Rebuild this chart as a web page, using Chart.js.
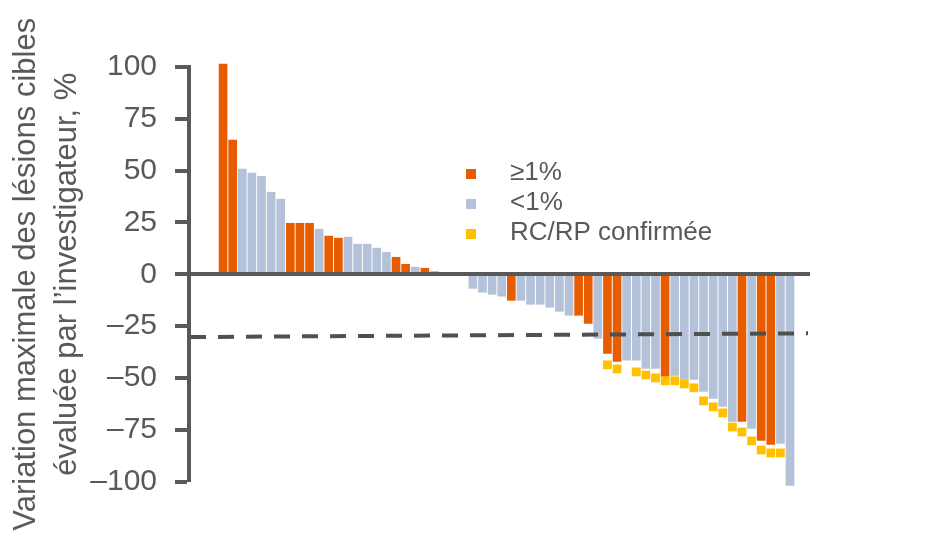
<!DOCTYPE html>
<html>
<head>
<meta charset="utf-8">
<script src="https://cdn.jsdelivr.net/npm/chart.js@4"></script>
<style>
  html, body { margin: 0; padding: 0; background: #ffffff; }
  #wrap { width: 933px; height: 538px; position: relative; }
</style>
</head>
<body>
<div id="wrap"><canvas id="waterfall" width="933" height="538"></canvas></div>
<script>
// Patient rank along the waterfall (ranks 24–26 carry no measurement)
const patientRank = [
  1, 2, 3, 4, 5, 6, 7, 8, 9, 10, 11, 12, 13, 14, 15, 16, 17, 18, 19, 20,
  21, 22, 23, 24, 25, 26, 27, 28, 29, 30, 31, 32, 33, 34, 35, 36, 37, 38, 39, 40,
  41, 42, 43, 44, 45, 46, 47, 48, 49, 50, 51, 52, 53, 54, 55, 56, 57, 58, 59, 60
];

// Best change from baseline in sum of target lesions, %
const bestChange = [
  101.4, 64.7, 50.7, 48.8, 47.3, 39.6, 36.2, 24.6, 24.6, 24.6,
  21.7, 18.4, 17.4, 17.9, 14.5, 14.5, 12.6, 10.6, 8.2, 4.8,
  3.4, 2.9, 1.4, null, null, null, -6.8, -8.7, -9.7, -10.6,
  -12.6, -12.6, -14.5, -14.5, -15.9, -17.9, -19.8, -19.8, -23.7, -30.9,
  -38.2, -42.0, -41.5, -41.5, -45.4, -45.4, -49.3, -48.8, -50.7, -50.7,
  -56.5, -59.9, -63.8, -71.0, -71.0, -74.4, -80.2, -82.1, -81.6, -101.9
];

// PD-L1 expression group per patient: 'H' = ≥1 %, 'L' = <1 %
const pdl1Group = [
  'H', 'H', 'L', 'L', 'L', 'L', 'L', 'H', 'H', 'H',
  'L', 'H', 'H', 'L', 'L', 'L', 'L', 'L', 'H', 'H',
  'L', 'H', 'L', null, null, null, 'L', 'L', 'L', 'L',
  'H', 'L', 'L', 'L', 'L', 'L', 'L', 'H', 'H', 'L',
  'H', 'H', 'L', 'L', 'L', 'L', 'H', 'L', 'L', 'L',
  'L', 'L', 'L', 'L', 'H', 'L', 'H', 'H', 'L', 'L'
];

// Confirmed CR/PR marker level (null = no confirmed response)
const confirmedMarker = [
  null, null, null, null, null, null, null, null, null, null,
  null, null, null, null, null, null, null, null, null, null,
  null, null, null, null, null, null, null, null, null, null,
  null, null, null, null, null, null, null, null, null, null,
  -43.7, -45.7, null, -47.1, -48.6, -50.0, -51.4, -51.4, -52.9, -54.8,
  -61.1, -64.0, -66.9, -73.7, -76.1, -80.4, -84.8, -86.2, -86.2, -105.6
];

const yTicks = [100, 75, 50, 25, 0, -25, -50, -75, -100];
const seriesLabels = ['≥1%', '<1%', 'RC/RP confirmée'];
const yTitle = ['Variation maximale des lésions cibles', 'évaluée par l’investigateur, %'];
// −30 % response threshold, level at the left and right ends of the dashed line
const thresholdLine = [-30.3, -28.5];

const ORANGE = '#E85C00';
const BLUE = '#B4C2D9';
const GOLD = '#FFC000';
const AXIS = '#595959';
const TEXT = '#595959';
const FONT = '"Liberation Sans", Arial, Helvetica, sans-serif';

function barPoints(code) {
  const out = [];
  patientRank.forEach((r, i) => {
    if (pdl1Group[i] === code && bestChange[i] !== null) out.push({ x: r, y: bestChange[i] });
  });
  return out;
}
const markerPoints = [];
patientRank.forEach((r, i) => {
  if (confirmedMarker[i] !== null) markerPoints.push({ x: r, y: confirmedMarker[i] });
});

// Dashed −30 % threshold across the plot
const thresholdPlugin = {
  id: 'threshold',
  afterDatasetsDraw(chart) {
    const { ctx, chartArea, scales } = chart;
    const y = scales.y;
    ctx.save();
    ctx.strokeStyle = '#505050';
    ctx.lineWidth = 4;
    ctx.lineCap = 'butt';
    ctx.setLineDash([16, 12]);
    ctx.beginPath();
    ctx.moveTo(chartArea.left + 1, y.getPixelForValue(thresholdLine[0]));
    ctx.lineTo(chartArea.right - 2, y.getPixelForValue(thresholdLine[1]));
    ctx.stroke();
    ctx.restore();
  }
};

// Legend block inside the plot
const legendPlugin = {
  id: 'insideLegend',
  afterDraw(chart) {
    const { ctx } = chart;
    const colors = [ORANGE, BLUE, GOLD];
    ctx.save();
    ctx.font = '26px ' + FONT;
    ctx.textBaseline = 'alphabetic';
    ctx.textAlign = 'left';
    seriesLabels.forEach((label, i) => {
      const base = 179.5 + i * 30;
      ctx.fillStyle = colors[i];
      ctx.fillRect(466, base - 10.5, 10, 10);
      ctx.fillStyle = TEXT;
      ctx.fillText(label, 510, base);
    });
    ctx.restore();
  }
};

new Chart(document.getElementById('waterfall'), {
  type: 'bar',
  data: {
    datasets: [
      {
        label: seriesLabels[2],
        type: 'scatter',
        data: markerPoints,
        backgroundColor: GOLD,
        borderWidth: 0,
        pointStyle: 'rect',
        pointRadius: 6.2,
        pointHoverRadius: 6.2,
        clip: false,
        order: 0
      },
      {
        label: seriesLabels[0],
        data: barPoints('H'),
        backgroundColor: ORANGE,
        borderWidth: 0,
        barThickness: 8,
        grouped: false,
        clip: false,
        order: 1
      },
      {
        label: seriesLabels[1],
        data: barPoints('L'),
        backgroundColor: BLUE,
        borderWidth: 0,
        barThickness: 8,
        grouped: false,
        clip: false,
        order: 1
      }
    ]
  },
  options: {
    responsive: false,
    animation: false,
    events: [],
    layout: { padding: { left: 5.5, top: 67, right: 123, bottom: 56.5 } },
    plugins: {
      legend: { display: false },
      tooltip: { enabled: false }
    },
    scales: {
      x: {
        type: 'linear',
        offset: false,
        min: -2.54,
        max: 62.08,
        display: false
      },
      y: {
        min: -100,
        max: 100,
        afterBuildTicks: (scale) => { scale.ticks = yTicks.map(v => ({ value: v })); },
        border: { display: true, width: 4, color: AXIS, z: 1 },
        grid: {
          z: 1,
          drawTicks: true,
          tickLength: 14,
          tickWidth: 4,
          tickColor: AXIS,
          color: (c) => (c.tick && c.tick.value === 0 ? AXIS : 'rgba(0,0,0,0)'),
          lineWidth: (c) => (c.tick && c.tick.value === 0 ? 4 : 0)
        },
        ticks: {
          padding: 18,
          color: TEXT,
          font: { family: FONT, size: 30 },
          callback: (v) => (v < 0 ? '–' + Math.abs(v) : String(v))
        },
        title: {
          display: true,
          text: yTitle,
          color: TEXT,
          font: { family: FONT, size: 31, lineHeight: 41 / 31 },
          padding: { top: 0, bottom: -15.2 }
        }
      }
    }
  },
  plugins: [thresholdPlugin, legendPlugin]
});
</script>
</body>
</html>
